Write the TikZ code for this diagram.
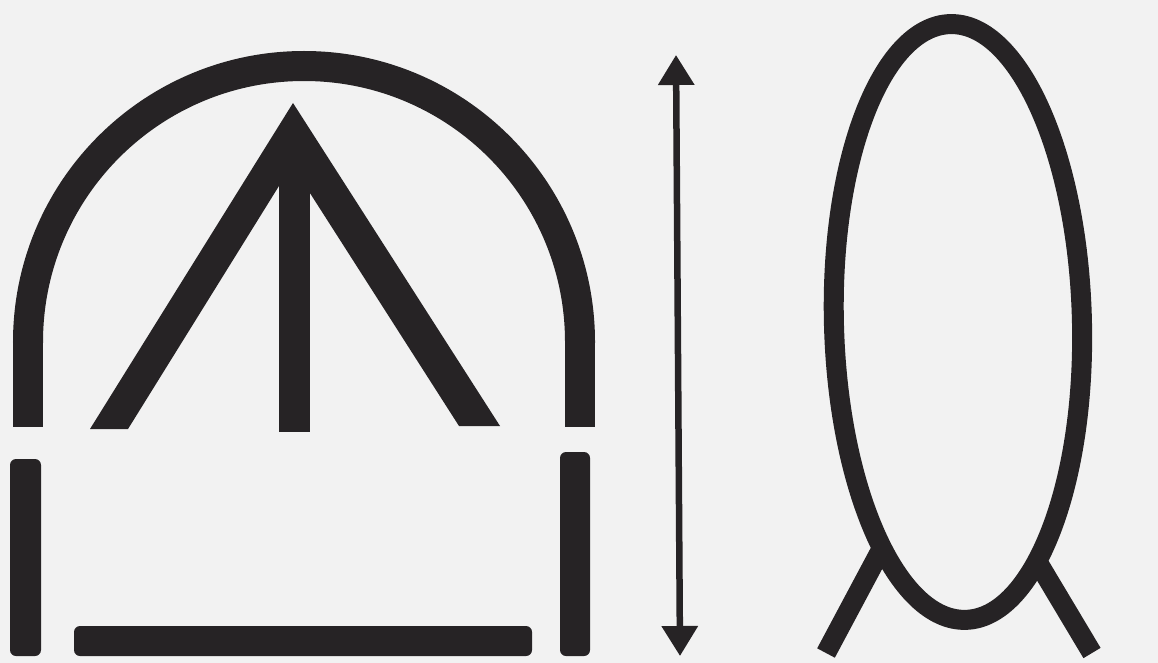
\documentclass[tikz,border=0pt]{standalone}
\usetikzlibrary{arrows.meta}
\definecolor{ink}{RGB}{38,35,37}
\definecolor{paper}{RGB}{242,242,242}
\begin{document}
\begin{tikzpicture}[x=1pt,y=-1pt,
  bar/.style={fill=ink,rounded corners=6pt},
  thick stroke/.style={draw=ink,line width=30pt},
  ring/.style={draw=ink,line width=20pt},
  dblarrow/.style={draw=ink,line width=6.5pt,{Triangle[width=35pt,length=30pt]}-{Triangle[width=35pt,length=30pt]}}]
\fill[paper] (0,0) rectangle (1158,663);
\useasboundingbox (0,0) rectangle (1158,663);
% arch
\coordinate (ac) at (304,342);
\begin{scope}
  \clip (0,0) rectangle (1158,342);
  \draw[thick stroke] (ac) circle [radius=276];
\end{scope}
\coordinate (alt) at (28,341);
\coordinate (alb) at (28,427);
\coordinate (art) at (580,341);
\coordinate (arb) at (580,427);
\draw[thick stroke] (alt) -- (alb);
\draw[thick stroke] (art) -- (arb);
% Lambda and stem
\fill[ink] (293,103) -- (90,429) -- (128,429) -- (292,165) -- (459,426) -- (500,426) -- cycle;
\fill[ink] (279,160) rectangle (310,432);
% bars
\fill[bar] (10,459) rectangle (41,656);
\fill[bar] (560,452) rectangle (590,656);
\fill[bar] (74,626) rectangle (532,656);
% double arrow
\coordinate (atop) at (676,55);
\coordinate (abot) at (680,656);
\draw[dblarrow] (atop) -- (abot);
% ellipse with legs
\coordinate (ec) at (958,322);
\draw[ring,rotate around={1.5:(ec)}] (ec) ellipse [x radius=124, y radius=298];
\coordinate (l1) at (882,548);
\coordinate (l2) at (826,653);
\coordinate (r1) at (1040,566);
\coordinate (r2) at (1092,653);
\draw[ring] (l1) -- (l2);
\draw[ring] (r1) -- (r2);
\end{tikzpicture}
\end{document}
